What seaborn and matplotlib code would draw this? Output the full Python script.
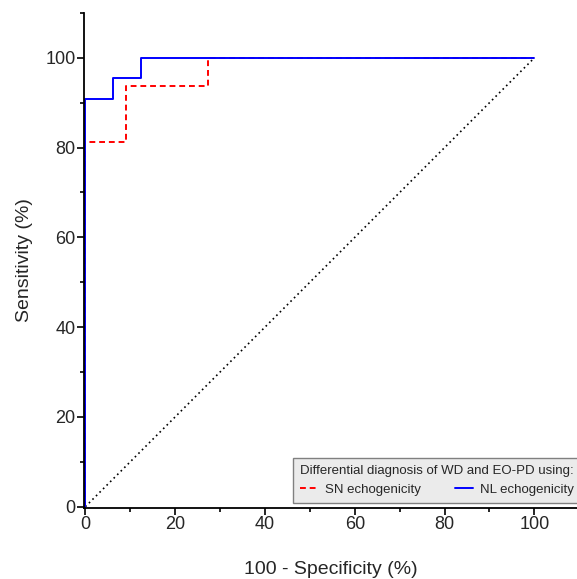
import pandas as pd
import matplotlib.pyplot as plt
import seaborn as sns
from matplotlib.ticker import MultipleLocator

sns.set_theme(style="white")
plt.rcParams['font.family'] = ['Liberation Sans', 'DejaVu Sans']

# ROC curve vertices (100 - specificity, sensitivity)
sn_fpr = [0, 0, 9.09, 9.09, 27.27, 27.27, 100]
sn_tpr = [0, 81.25, 81.25, 93.75, 93.75, 100, 100]
nl_fpr = [0, 0, 6.25, 6.25, 12.5, 12.5, 100]
nl_tpr = [0, 90.9, 90.9, 95.45, 95.45, 100, 100]
diag = [0, 100]

sn = pd.DataFrame({'x': sn_fpr, 'y': sn_tpr})
nl = pd.DataFrame({'x': nl_fpr, 'y': nl_tpr})

fig = plt.figure(figsize=(5.77, 5.79), dpi=100)
ax = fig.add_axes([0.1456, 0.1226, 0.8544, 0.855])

sns.lineplot(x=diag, y=diag, color='black', linestyle=(0, (1, 2)), lw=1.2, ax=ax)
sns.lineplot(data=sn, x='x', y='y', sort=False, estimator=None, color='red',
             linestyle=(0, (3, 2)), lw=1.4, label='SN echogenicity', ax=ax)
sns.lineplot(data=nl, x='x', y='y', sort=False, estimator=None, color='blue',
             lw=1.4, label='NL echogenicity', ax=ax)

ax.set_xlim(-0.3, 109.5)
ax.set_ylim(-0.3, 110)
ax.xaxis.set_major_locator(MultipleLocator(20))
ax.xaxis.set_minor_locator(MultipleLocator(10))
ax.yaxis.set_major_locator(MultipleLocator(20))
ax.yaxis.set_minor_locator(MultipleLocator(10))
ax.tick_params(which='major', direction='out', length=5, width=1.2, labelsize=13,
               bottom=True, left=True, color='black', pad=1)
ax.tick_params(which='minor', direction='out', length=3, width=1.2,
               bottom=True, left=True, color='black')
for s in ['top', 'right']:
    ax.spines[s].set_visible(False)
for s in ['left', 'bottom']:
    ax.spines[s].set_color('black')
    ax.spines[s].set_linewidth(1.3)

ax.set_xlabel('100 - Specificity (%)', fontsize=14, labelpad=20)
ax.set_ylabel('Sensitivity (%)', fontsize=14, labelpad=9)

leg = ax.legend(title='Differential diagnosis of WD and EO-PD using:', ncol=2,
                loc='lower right', bbox_to_anchor=(1.008, 0.01), borderaxespad=0,
                fontsize=9.5, title_fontsize=9.5, fancybox=False, framealpha=1,
                handlelength=1.35, columnspacing=2.65, borderpad=0.55,
                handletextpad=0.5)
leg.get_frame().set_facecolor('#ebebeb')
leg.get_frame().set_edgecolor('#808080')

fig.savefig('out.png', dpi=100)
